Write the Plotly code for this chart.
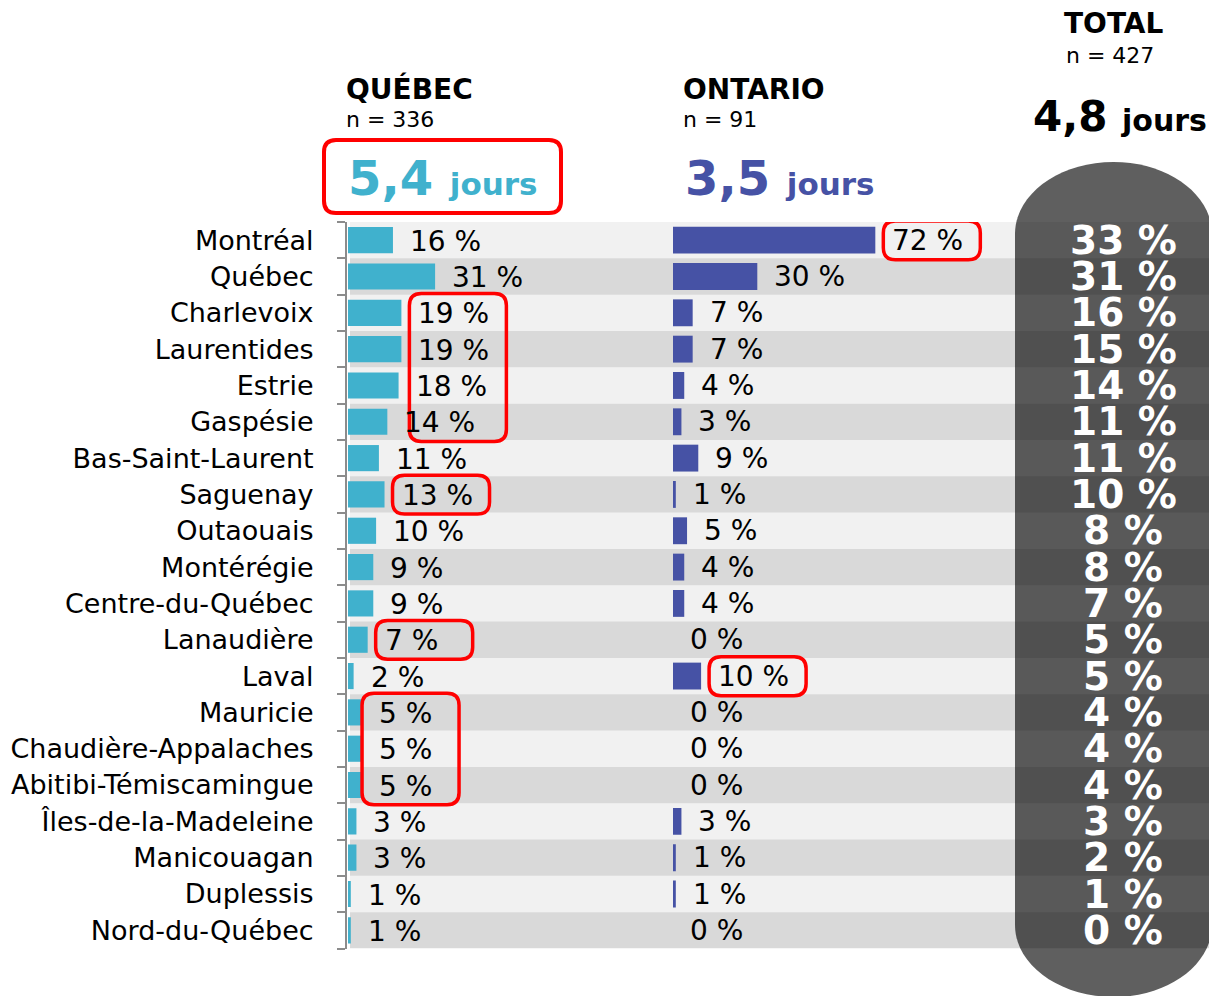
import plotly.graph_objects as go

# ---------------- data ----------------
regions = ["Montréal", "Québec", "Charlevoix", "Laurentides", "Estrie", "Gaspésie",
           "Bas-Saint-Laurent", "Saguenay", "Outaouais", "Montérégie", "Centre-du-Québec",
           "Lanaudière", "Laval", "Mauricie", "Chaudière-Appalaches", "Abitibi-Témiscamingue",
           "Îles-de-la-Madeleine", "Manicouagan", "Duplessis", "Nord-du-Québec"]
quebec = [16, 31, 19, 19, 18, 14, 11, 13, 10, 9, 9, 7, 2, 5, 5, 5, 3, 3, 1, 1]
ontario = [72, 30, 7, 7, 4, 3, 9, 1, 5, 4, 4, 0, 10, 0, 0, 0, 3, 1, 1, 0]
total = [33, 31, 16, 15, 14, 11, 11, 10, 8, 8, 7, 5, 5, 4, 4, 4, 3, 2, 1, 0]

groups = ["QUÉBEC", "ONTARIO", "TOTAL"]
group_n = [336, 91, 427]
group_days = [5.4, 3.5, 4.8]

# highlighted labels: (column, first row, last row)
highlights = [("QC", 2, 5), ("QC", 7, 7), ("QC", 11, 11), ("QC", 13, 15),
              ("ON", 0, 0), ("ON", 12, 12)]

# ---------------- styling / geometry ----------------
W, H = 1217, 996
OFF = 8  # page body margin
FONT = "DejaVu Sans"
TEAL = "#40b1cd"
BLUE = "#4652a5"
RED = "#ff0000"
PX_PER_PCT = 2.81
ROW_TOP, ROW_BOT = 222, 948.5
N = len(regions)
PX_PER_ROW = (ROW_BOT - ROW_TOP) / N
QC_X0, ON_X0, ON_X1 = 348, 673, 1014


def px(x):
    return (x - OFF) / W


def py(y):
    return 1 - (y - OFF) / H


def rounded_path(x0, x1, y0, y1, rx, ry):
    sx = rx if x1 > x0 else -rx
    sy = ry if y1 > y0 else -ry
    return (f"M {x0+sx},{y0} L {x1-sx},{y0} Q {x1},{y0} {x1},{y0+sy} "
            f"L {x1},{y1-sy} Q {x1},{y1} {x1-sx},{y1} L {x0+sx},{y1} "
            f"Q {x0},{y1} {x0},{y1-sy} L {x0},{y0+sy} Q {x0},{y0} {x0+sx},{y0} Z")


fig = go.Figure()
idx = list(range(N))

fig.add_trace(go.Bar(x=quebec, y=idx, orientation="h", marker=dict(color=TEAL, line_width=0),
                     width=0.72, xaxis="x", yaxis="y", hoverinfo="skip"))
fig.add_trace(go.Bar(x=ontario, y=idx, orientation="h", marker=dict(color=BLUE, line_width=0),
                     width=0.74, xaxis="x2", yaxis="y2", hoverinfo="skip"))

ydom = [py(ROW_BOT), py(ROW_TOP)]
shift = 3 / H
fig.update_layout(
    width=W, height=H, margin=dict(l=0, r=0, t=0, b=0),
    paper_bgcolor="white", plot_bgcolor="rgba(0,0,0,0)",
    showlegend=False, barmode="overlay",
    xaxis=dict(domain=[px(QC_X0), px(ON_X0)], range=[0, (ON_X0 - QC_X0) / PX_PER_PCT],
               visible=False, anchor="y", fixedrange=True),
    xaxis2=dict(domain=[px(ON_X0), px(ON_X1)], range=[0, (ON_X1 - ON_X0) / PX_PER_PCT],
                visible=False, anchor="y2", fixedrange=True),
    yaxis=dict(domain=ydom, range=[N - 0.5, -0.5], anchor="free", position=px(346),
               tickmode="array", tickvals=idx, ticktext=regions, ticks="",
               ticklabelstandoff=26,
               tickfont=dict(family=FONT, size=27, color="black"),
               showline=True, linecolor="#8c8c8c", linewidth=2, showgrid=False,
               zeroline=False, fixedrange=True,
               minor=dict(tickmode="linear", tick0=-0.5, dtick=1, ticks="outside",
                          ticklen=8, tickwidth=2, tickcolor="#8c8c8c", showgrid=False)),
    yaxis2=dict(domain=[ydom[0] + shift, ydom[1] + shift], range=[N - 0.5, -0.5],
                anchor="x2", overlaying="y", visible=False, fixedrange=True),
)

shapes = []
# pill behind total column
L, R, T, B = 1015, 1212, 162, 997
rx, ry, k = (R - L) / 2, 72, 0.5523
cx = (L + R) / 2
pts = [("M", [(L, T + ry)]),
       ("C", [(L, T + ry - k * ry), (cx - k * rx, T), (cx, T)]),
       ("C", [(cx + k * rx, T), (R, T + ry - k * ry), (R, T + ry)]),
       ("L", [(R, B - ry)]),
       ("C", [(R, B - ry + k * ry), (cx + k * rx, B), (cx, B)]),
       ("C", [(cx - k * rx, B), (L, B - ry + k * ry), (L, B - ry)])]
path = " ".join(cmd + " " + " ".join(f"{px(a):.5f},{py(b):.5f}" for a, b in p) for cmd, p in pts) + " Z"
shapes.append(dict(type="path", path=path, xref="paper", yref="paper", fillcolor="#5f5f5f",
                   line_width=0, layer="below"))
# row stripes
for i in idx:
    shapes.append(dict(type="rect", xref="paper", yref="y", x0=px(350), x1=px(1212),
                       y0=i - 0.5, y1=i + 0.5, line_width=0, layer="below",
                       fillcolor="rgba(0,0,0,0.055)" if i % 2 == 0 else "rgba(0,0,0,0.15)"))

# highlight boxes around labels
for col, r0, r1 in highlights:
    vals = quebec if col == "QC" else ontario
    xr, yr = ("x", "y") if col == "QC" else ("x2", "y2")
    vmax = max(vals[r0:r1 + 1])
    left = vmax + 8 / PX_PER_PCT
    if col == "QC" and vmax <= 5:
        left = vmax
    right = left + 97 / PX_PER_PCT
    shapes.append(dict(type="path", xref=xr, yref=yr,
                       path=rounded_path(left, right, r0 - 0.53, r1 + 0.54,
                                         12 / PX_PER_PCT, 12 / PX_PER_ROW),
                       line=dict(color=RED, width=3.5), fillcolor="rgba(0,0,0,0)", layer="above"))
# highlight box around Québec average
shapes.append(dict(type="path", xref="paper", yref="paper",
                   path=rounded_path(px(324), px(561), py(140), py(213), 12 / W, 12 / H),
                   line=dict(color=RED, width=4), fillcolor="rgba(0,0,0,0)", layer="above"))
fig.update_layout(shapes=shapes)

ann = []
for i in idx:
    ann.append(dict(x=quebec[i], y=i, xref="x", yref="y", text=f"{quebec[i]} %",
                    showarrow=False, xanchor="left", yanchor="middle", xshift=15, yshift=-1,
                    font=dict(family=FONT, size=28, color="black")))
    ann.append(dict(x=ontario[i], y=i, xref="x2", yref="y2", text=f"{ontario[i]} %",
                    showarrow=False, xanchor="left", yanchor="middle", xshift=15,
                    font=dict(family=FONT, size=28, color="black")))
    ann.append(dict(x=px(1123), y=i, xref="paper", yref="y", text=f"<b>{total[i]} %</b>",
                    showarrow=False, xanchor="center", yanchor="middle",
                    font=dict(family=FONT, size=39, color="white")))


def fmt(v):
    return f"{v:.1f}".replace(".", ",")


# headers
hdr_x = [344, 681]
day_colors = [TEAL, BLUE]
for j in range(2):
    ann.append(dict(x=px(hdr_x[j]), y=py(89), xref="paper", yref="paper", text=f"<b>{groups[j]}</b>",
                    showarrow=False, xanchor="left", yanchor="middle",
                    font=dict(family=FONT, size=28, color="black")))
    ann.append(dict(x=px(hdr_x[j]), y=py(120), xref="paper", yref="paper", text=f"n = {group_n[j]}",
                    showarrow=False, xanchor="left", yanchor="middle",
                    font=dict(family=FONT, size=22, color="black")))
    ann.append(dict(x=px(hdr_x[j] + 2), y=py(178), xref="paper", yref="paper",
                    text=f"<b>{fmt(group_days[j])} <span style='font-size:31px'>jours</span></b>",
                    showarrow=False, xanchor="left", yanchor="middle",
                    font=dict(family=FONT, size=48, color=day_colors[j])))
ann.append(dict(x=px(1113), y=py(24), xref="paper", yref="paper", text=f"<b>{groups[2]}</b>",
                showarrow=False, xanchor="center", yanchor="middle",
                font=dict(family=FONT, size=28, color="black")))
ann.append(dict(x=px(1110), y=py(55), xref="paper", yref="paper", text=f"n = {group_n[2]}",
                showarrow=False, xanchor="center", yanchor="middle",
                font=dict(family=FONT, size=22, color="black")))
ann.append(dict(x=px(1120), y=py(116), xref="paper", yref="paper",
                text=f"<b>{fmt(group_days[2])} <span style='font-size:30px'>jours</span></b>",
                showarrow=False, xanchor="center", yanchor="middle",
                font=dict(family=FONT, size=42, color="black")))
fig.update_layout(annotations=ann)

fig.write_html("out.html")
